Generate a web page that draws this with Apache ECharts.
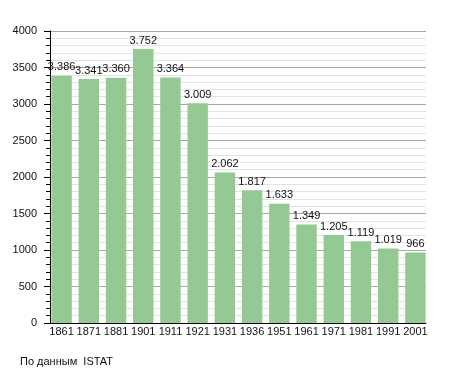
<!DOCTYPE html>
<html>
<head>
<meta charset="utf-8">
<script src="https://cdn.jsdelivr.net/npm/echarts@6/dist/echarts.min.js"></script>
<style>
html,body{margin:0;padding:0;background:#fff;}
#c{width:455px;height:373px;}
</style>
</head>
<body>
<div id="c"></div>
<script>
const years = ['1861','1871','1881','1901','1911','1921','1931','1936','1951','1961','1971','1981','1991','2001'];
const population = [3386, 3341, 3360, 3752, 3364, 3009, 2062, 1817, 1633, 1349, 1205, 1119, 1019, 966];
const yTicks = [0, 500, 1000, 1500, 2000, 2500, 3000, 3500, 4000];
const sourceNote = 'По данным  ISTAT';

const FONT = "'Liberation Sans', Arial, sans-serif";
function fmt(v){ return String(v).replace(/\B(?=(\d{3})+(?!\d))/g, '.'); }

const chart = echarts.init(document.getElementById('c'), null, {renderer:'canvas'});
chart.setOption({
  animation: false,
  backgroundColor: '#fff',
  textStyle: {fontFamily: FONT},
  grid: [
    {left: 50, right: 29, top: 31, bottom: 50},
    {left: 48, right: 26, top: 31, bottom: 50}
  ],
  xAxis: [
    {gridIndex: 0, type: 'category', data: years, z: 5,
      axisLine: {show: true, lineStyle: {color: '#000', width: 1}},
      axisTick: {show: false}, axisLabel: {show: false}, splitLine: {show: false}},
    {gridIndex: 1, type: 'category', data: years,
      axisLine: {show: false}, axisTick: {show: false},
      axisLabel: {show: true, color: '#111', fontSize: 11, fontFamily: FONT, margin: 3, interval: 0}}
  ],
  yAxis: [
    {gridIndex: 0, type: 'value', min: yTicks[0], max: yTicks[yTicks.length-1], interval: 500,
      axisLine: {show: true, lineStyle: {color: '#000', width: 1}},
      axisTick: {show: true, length: 6, lineStyle: {color: '#000'}},
      minorTick: {show: true, splitNumber: 5, length: 4, lineStyle: {color: '#000'}},
      axisLabel: {color: '#111', fontSize: 11, fontFamily: FONT, margin: 13, formatter: v => String(v)},
      splitLine: {show: true, lineStyle: {color: '#a8a8a8', width: 1}},
      minorSplitLine: {show: true, lineStyle: {color: '#e2e2e2', width: 1}}},
    {gridIndex: 1, type: 'value', min: yTicks[0], max: yTicks[yTicks.length-1], interval: 500, show: false,
      splitLine: {show: false}}
  ],
  series: [{
    type: 'bar', xAxisIndex: 1, yAxisIndex: 1,
    data: population,
    barCategoryGap: '25%',
    itemStyle: {color: '#94c994'},
    label: {show: true, position: 'top', distance: 3, color: '#111', fontSize: 11, fontFamily: FONT,
      formatter: p => fmt(p.value)}
  }],
  graphic: [{
    type: 'text', left: 20, top: 356,
    style: {text: sourceNote, fill: '#111', fontSize: 11, fontFamily: FONT}
  }]
});
</script>
</body>
</html>
